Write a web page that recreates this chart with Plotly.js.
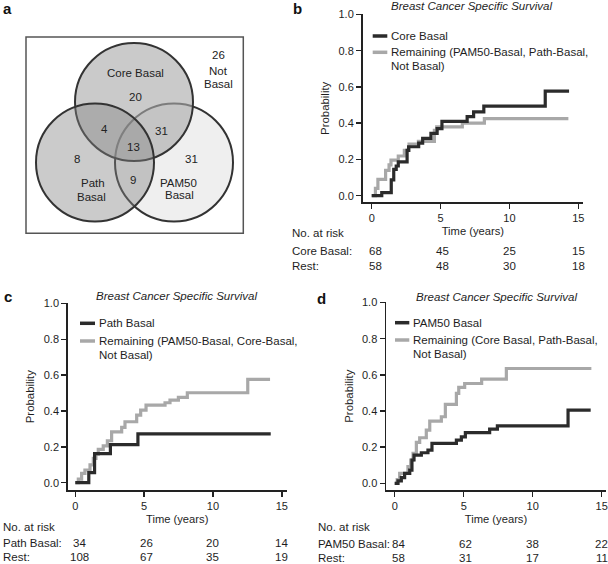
<!DOCTYPE html>
<html>
<head>
<meta charset="utf-8">
<script src="https://cdn.plot.ly/plotly-3.0.1.min.js"></script>
<style>html,body{margin:0;padding:0;background:#fff;}#chart{width:608px;height:564px;}</style>
</head>
<body>
<div id="chart"></div>
<script>
// ---------- Data ----------
// Panel b
const coreT = [0, 0.73, 1.42, 1.60, 1.78, 1.93, 2.57, 2.68, 3.41, 3.70, 4.30, 4.75, 5.10, 6.93, 7.40, 8.14, 12.60, 14.33];
const coreP = [0, 0.017, 0.087, 0.145, 0.164, 0.187, 0.25, 0.27, 0.29, 0.316, 0.344, 0.37, 0.41, 0.436, 0.463, 0.494, 0.577, 0.577];
const remBT = [0, 0.27, 0.45, 1.01, 1.26, 1.40, 1.93, 2.37, 2.71, 3.39, 4.55, 4.72, 6.58, 8.18, 14.28];
const remBP = [0, 0.04, 0.09, 0.14, 0.17, 0.196, 0.219, 0.25, 0.285, 0.30, 0.36, 0.38, 0.40, 0.425, 0.425];
// Panel c
const pathT = [0, 0.98, 1.40, 2.55, 4.55, 14.2];
const pathP = [0, 0.056, 0.162, 0.213, 0.273, 0.273];
const remCT = [0, 0.22, 0.46, 0.70, 1.07, 1.31, 1.50, 1.67, 2.03, 2.33, 2.64, 3.37, 3.61, 4.46, 4.75, 5.14, 6.52, 6.88, 7.49, 8.14, 12.53, 14.15];
const remCP = [0, 0.02, 0.052, 0.071, 0.10, 0.136, 0.16, 0.186, 0.205, 0.234, 0.284, 0.309, 0.34, 0.377, 0.405, 0.433, 0.446, 0.461, 0.476, 0.502, 0.576, 0.576];
// Panel d
const pamT = [0, 0.24, 0.48, 0.72, 1.09, 1.25, 1.40, 1.93, 2.41, 2.70, 4.47, 4.83, 5.12, 6.88, 7.44, 12.56, 14.2];
const pamP = [0, 0.013, 0.031, 0.055, 0.073, 0.129, 0.156, 0.169, 0.184, 0.221, 0.239, 0.257, 0.28, 0.30, 0.318, 0.405, 0.405];
const remDT = [0, 0.18, 0.36, 0.96, 1.16, 1.33, 1.57, 1.81, 2.29, 2.54, 3.38, 3.67, 4.47, 4.64, 5.07, 6.3, 8.09, 14.25];
const remDP = [0, 0.02, 0.055, 0.092, 0.129, 0.166, 0.226, 0.252, 0.294, 0.344, 0.368, 0.436, 0.497, 0.53, 0.552, 0.576, 0.635, 0.635];

// Number at risk
const riskTimes = [0, 5, 10, 15];
const riskCoreBasal = [68, 45, 25, 15];
const riskRestB = [58, 48, 30, 18];
const riskPathBasal = [34, 26, 20, 14];
const riskRestC = [108, 67, 35, 19];
const riskPam50Basal = [84, 62, 38, 22];
const riskRestD = [58, 31, 17, 11];

// Venn counts
const vennCoreOnly = 20, vennPathOnly = 8, vennPamOnly = 31;
const vennCorePath = 4, vennCorePam = 31, vennPathPam = 9, vennAll = 13, vennNone = 26;

// Axis ticks
const xTicks = [0, 5, 10, 15];
const yTicks = [0, 0.2, 0.4, 0.6, 0.8, 1.0];

// ---------- Styling ----------
const W = 608, H = 564;
const FONT = 'Arial, "Liberation Sans", Helvetica, sans-serif';
const TXT = '#1e1e1e';
const BLACK = '#2b2b2b';
const GRAY = '#a8a8a8';
const FS = 11.5;
const PX = x => x / W;
const PY = y => 1 - y / H;

function km(x, y, xa, ya, color) {
  return {x: x, y: y, xaxis: xa, yaxis: ya, type: 'scatter', mode: 'lines',
    line: {shape: 'hv', color: color, width: 3.2}, hoverinfo: 'skip'};
}
const data = [
  km(remBT, remBP, 'x', 'y', GRAY), km(coreT, coreP, 'x', 'y', BLACK),
  km(remCT, remCP, 'x2', 'y2', GRAY), km(pathT, pathP, 'x2', 'y2', BLACK),
  km(remDT, remDP, 'x3', 'y3', GRAY), km(pamT, pamP, 'x3', 'y3', BLACK)
];

function xax(domain, range, anchor) {
  return {domain: domain, range: range, anchor: anchor, tickmode: 'array', tickvals: xTicks,
    ticks: 'outside', ticklen: 5, tickwidth: 1.5, tickcolor: '#222', showline: true,
    linecolor: '#222', linewidth: 1.5, showgrid: false, zeroline: false,
    tickfont: {family: FONT, size: 11, color: TXT},
    title: {text: 'Time (years)', font: {family: FONT, size: 11.2, color: TXT}, standoff: 4}};
}
function yax(domain, range, anchor) {
  return {domain: domain, range: range, anchor: anchor, tickmode: 'array', tickvals: yTicks,
    tickformat: '.1f', ticks: 'outside', ticklen: 5, tickwidth: 1.5, tickcolor: '#222', showline: true,
    linecolor: '#222', linewidth: 1.5, showgrid: false, zeroline: false,
    tickfont: {family: FONT, size: 11, color: TXT},
    title: {text: 'Probability', font: {family: FONT, size: 11.4, color: TXT}, standoff: 6}};
}

const annotations = [];
const shapes = [];
function txt(x, y, text, opts) {
  annotations.push(Object.assign({xref: 'paper', yref: 'paper', x: PX(x), y: PY(y), text: text,
    showarrow: false, xanchor: 'center', yanchor: 'middle',
    font: {family: FONT, size: FS, color: TXT}}, opts || {}));
}
function seg(x0, x1, y, color) {
  shapes.push({type: 'line', xref: 'paper', yref: 'paper', x0: PX(x0), x1: PX(x1), y0: PY(y), y1: PY(y),
    line: {color: color, width: 3.5}});
}

// Panel letters
const bold15 = {font: {family: FONT, size: 15, color: '#111', weight: 'bold'}};
txt(7, 8, '<b>a</b>', bold15);
txt(297, 9, '<b>b</b>', bold15);
txt(7.5, 296, '<b>c</b>', bold15);
txt(321, 298, '<b>d</b>', bold15);

// Titles
const ital = {font: {family: FONT, size: FS, color: TXT, style: 'italic'}};
txt(472, 6, '<i>Breast Cancer Specific Survival</i>', ital);
txt(177, 296, '<i>Breast Cancer Specific Survival</i>', ital);
txt(497, 297, '<i>Breast Cancer Specific Survival</i>', ital);

// Legends
const left = {xanchor: 'left'};
seg(372.7, 387.3, 36, BLACK); txt(389, 36, 'Core Basal', left);
seg(372.7, 387.3, 52.3, GRAY); txt(389, 52.3, 'Remaining (PAM50-Basal, Path-Basal,', left);
txt(389, 65.7, 'Not Basal)', left);

seg(80, 95, 323.3, BLACK); txt(96.7, 323.3, 'Path Basal', left);
seg(80, 95, 341, GRAY); txt(96.7, 341, 'Remaining (PAM50-Basal, Core-Basal,', left);
txt(96.7, 355, 'Not Basal)', left);

seg(395, 409.3, 322.7, BLACK); txt(410.7, 322.7, 'PAM50 Basal', left);
seg(395, 409.3, 340, GRAY); txt(410.7, 340, 'Remaining (Core Basal, Path-Basal,', left);
txt(410.7, 354, 'Not Basal)', left);

// Number at risk tables
function riskTable(xref, labelX, ys, label1, row1, row2) {
  txt(labelX, ys[0], 'No. at risk', left);
  txt(labelX, ys[1], label1, left);
  txt(labelX, ys[2], 'Rest:', left);
  riskTimes.forEach((t, i) => {
    const sh = i === 0 ? 4 : (i === 1 ? 2 : 0);
    annotations.push({xref: xref, yref: 'paper', x: t, y: PY(ys[1]), text: String(row1[i]), showarrow: false,
      xanchor: 'center', yanchor: 'middle', xshift: sh, font: {family: FONT, size: FS, color: TXT}});
    annotations.push({xref: xref, yref: 'paper', x: t, y: PY(ys[2]), text: String(row2[i]), showarrow: false,
      xanchor: 'center', yanchor: 'middle', xshift: sh, font: {family: FONT, size: FS, color: TXT}});
  });
}
riskTable('x', 290, [233.3, 250.7, 265.7], 'Core Basal:', riskCoreBasal, riskRestB);
riskTable('x2', 1, [526.7, 543.3, 557.3], 'Path Basal:', riskPathBasal, riskRestC);
riskTable('x3', 316, [526.7, 544.3, 557.7], 'PAM50 Basal:', riskPam50Basal, riskRestD);

// Venn diagram (panel a)
function circ(cx, cy, r, fill) {
  shapes.push({type: 'circle', xref: 'paper', yref: 'paper',
    x0: PX(cx - r), x1: PX(cx + r), y0: PY(cy + r), y1: PY(cy - r),
    fillcolor: fill, line: {color: '#333', width: 2}});
}
shapes.push({type: 'rect', xref: 'paper', yref: 'paper', x0: PX(26), x1: PX(243.3), y0: PY(233.3), y1: PY(37),
  line: {color: '#555', width: 1.5}, fillcolor: 'rgba(0,0,0,0)'});
circ(174, 162.5, 59, 'rgb(239,239,239)');       // PAM50
circ(134, 102, 59, 'rgba(170,170,170,0.62)');   // Core
circ(95, 162.5, 59, 'rgba(130,130,130,0.42)');  // Path
const vf = {font: {family: FONT, size: 11.5, color: '#222'}};
txt(135, 73.3, 'Core Basal', vf);
txt(135, 97.3, String(vennCoreOnly), vf);
txt(218, 55, String(vennNone), vf);
txt(218, 70.7, 'Not', vf);
txt(218, 84, 'Basal', vf);
txt(104.3, 129.3, String(vennCorePath), vf);
txt(161, 131, String(vennCorePam), vf);
txt(133.3, 146.7, String(vennAll), vf);
txt(77.3, 159, String(vennPathOnly), vf);
txt(191.7, 159, String(vennPamOnly), vf);
txt(132.7, 180, String(vennPathPam), vf);
txt(93.3, 183.3, 'Path', vf);
txt(91.7, 196.7, 'Basal', vf);
txt(178.3, 182.7, 'PAM50', vf);
txt(179, 195.3, 'Basal', vf);

const layout = {
  width: W, height: H, margin: {l: 0, r: 0, t: 0, b: 0},
  paper_bgcolor: '#fff', plot_bgcolor: 'rgba(0,0,0,0)', showlegend: false,
  font: {family: FONT, size: 11, color: TXT},
  xaxis: xax([362.5 / W, 583.3 / W], [-0.668, 15.363], 'y'),
  yaxis: yax([(H - 202.3) / H, (H - 14.3) / H], [-0.0364, 1.001], 'x'),
  xaxis2: xax([67.7 / W, 286.7 / W], [-0.552, 15.36], 'y2'),
  yaxis2: yax([(H - 490) / H, (H - 303.3) / H], [-0.0407, 1.001], 'x2'),
  xaxis3: xax([386 / W, 606 / W], [-0.63, 15.31], 'y3'),
  yaxis3: yax([(H - 490) / H, (H - 302.3) / H], [-0.037, 1.001], 'x3'),
  annotations: annotations, shapes: shapes
};
Plotly.newPlot('chart', data, layout, {staticPlot: true, displayModeBar: false});
</script>
</body>
</html>
